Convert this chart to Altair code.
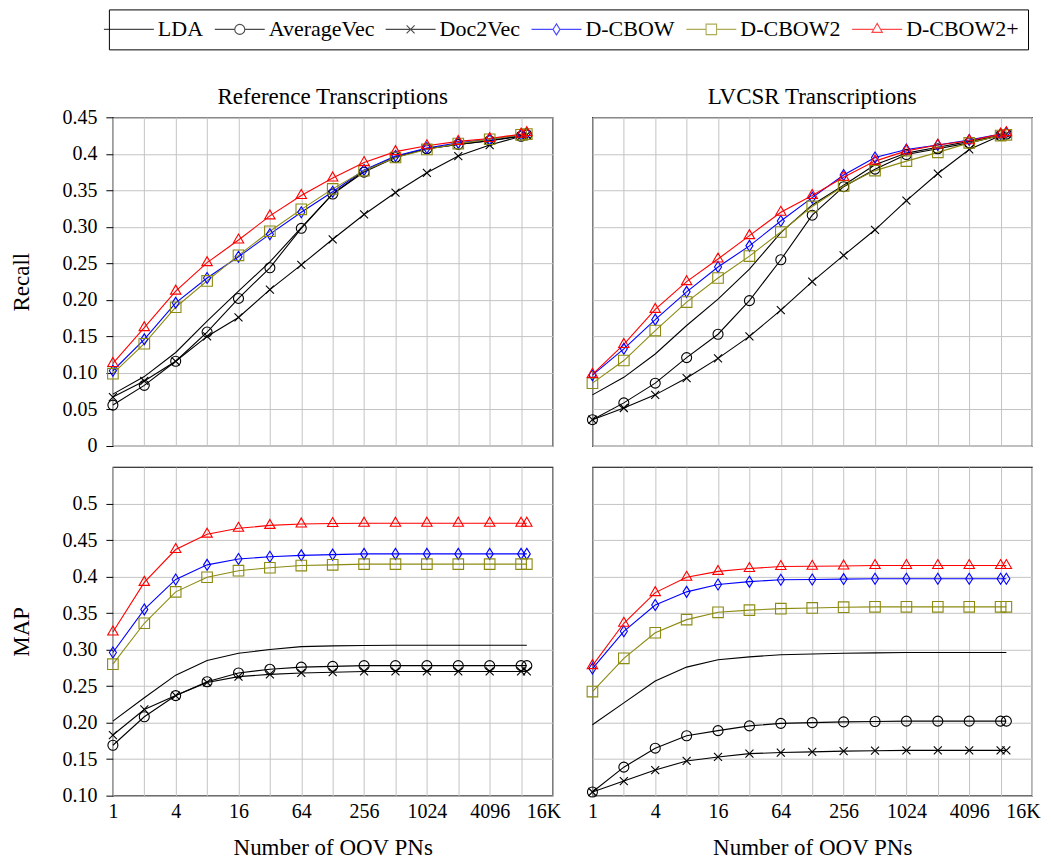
import altair as alt
import pandas as pd

# ---------------- data ----------------
x_points = [1, 2, 4, 8, 16, 32, 64, 128, 256, 512, 1024, 2048, 4096, 8192, 9300]
series = ["LDA", "AverageVec", "Doc2Vec", "D-CBOW", "D-CBOW2", "D-CBOW2+"]
series_colors = ["#000000", "#000000", "#000000", "#0000ff", "#8c8a10", "#ff0000"]

x_tick_values = [1, 2, 4, 8, 16, 32, 64, 128, 256, 512, 1024, 2048, 4096, 8192, 16384]
x_labelled = [1, 4, 16, 64, 256, 1024, 4096]
recall_ticks = [0, 0.05, 0.10, 0.15, 0.20, 0.25, 0.30, 0.35, 0.40, 0.45]
map_ticks = [0.10, 0.15, 0.20, 0.25, 0.30, 0.35, 0.40, 0.45, 0.50]

# Recall, reference transcriptions
ref_recall_lda = [0.071, 0.095, 0.128, 0.171, 0.212, 0.252, 0.299, 0.345, 0.377, 0.396, 0.407, 0.413, 0.418, 0.425, 0.426]
ref_recall_avg = [0.056, 0.083, 0.116, 0.156, 0.202, 0.244, 0.298, 0.345, 0.375, 0.395, 0.407, 0.413, 0.418, 0.424, 0.426]
ref_recall_d2v = [0.067, 0.089, 0.116, 0.150, 0.176, 0.214, 0.248, 0.283, 0.317, 0.347, 0.374, 0.397, 0.412, 0.424, 0.426]
ref_recall_dcbow = [0.103, 0.146, 0.196, 0.230, 0.259, 0.290, 0.320, 0.348, 0.378, 0.397, 0.408, 0.415, 0.420, 0.426, 0.428]
ref_recall_dcbow2 = [0.099, 0.140, 0.190, 0.226, 0.261, 0.294, 0.324, 0.352, 0.377, 0.395, 0.406, 0.414, 0.420, 0.426, 0.427]
ref_recall_dcbow2p = [0.113, 0.162, 0.212, 0.251, 0.282, 0.315, 0.343, 0.367, 0.388, 0.403, 0.411, 0.417, 0.421, 0.427, 0.429]

# Recall, LVCSR transcriptions
asr_recall_lda = [0.070, 0.094, 0.126, 0.165, 0.201, 0.242, 0.292, 0.330, 0.357, 0.385, 0.401, 0.409, 0.417, 0.425, 0.426]
asr_recall_avg = [0.036, 0.059, 0.086, 0.121, 0.153, 0.199, 0.255, 0.316, 0.355, 0.379, 0.399, 0.407, 0.415, 0.425, 0.427]
asr_recall_d2v = [0.036, 0.052, 0.070, 0.093, 0.120, 0.150, 0.186, 0.225, 0.261, 0.296, 0.336, 0.373, 0.406, 0.425, 0.427]
asr_recall_dcbow = [0.097, 0.133, 0.173, 0.211, 0.245, 0.274, 0.308, 0.340, 0.371, 0.395, 0.406, 0.412, 0.419, 0.427, 0.429]
asr_recall_dcbow2 = [0.086, 0.117, 0.158, 0.197, 0.230, 0.260, 0.293, 0.328, 0.356, 0.377, 0.390, 0.402, 0.415, 0.425, 0.426]
asr_recall_dcbow2p = [0.098, 0.139, 0.187, 0.225, 0.256, 0.288, 0.320, 0.343, 0.368, 0.390, 0.404, 0.412, 0.418, 0.427, 0.429]

# MAP, reference transcriptions
ref_map_lda = [0.202, 0.234, 0.265, 0.285, 0.295, 0.300, 0.304, 0.305, 0.3055, 0.306, 0.306, 0.306, 0.306, 0.306, 0.306]
ref_map_avg = [0.169, 0.208, 0.237, 0.256, 0.268, 0.273, 0.276, 0.277, 0.278, 0.278, 0.278, 0.278, 0.278, 0.278, 0.278]
ref_map_d2v = [0.183, 0.218, 0.237, 0.255, 0.263, 0.266, 0.268, 0.269, 0.270, 0.270, 0.270, 0.270, 0.270, 0.270, 0.270]
ref_map_dcbow = [0.296, 0.355, 0.396, 0.416, 0.424, 0.427, 0.429, 0.430, 0.431, 0.431, 0.431, 0.431, 0.431, 0.431, 0.431]
ref_map_dcbow2 = [0.280, 0.336, 0.379, 0.399, 0.408, 0.412, 0.415, 0.416, 0.417, 0.417, 0.417, 0.417, 0.417, 0.417, 0.417]
ref_map_dcbow2p = [0.324, 0.392, 0.437, 0.458, 0.466, 0.470, 0.472, 0.4725, 0.473, 0.473, 0.473, 0.473, 0.473, 0.473, 0.473]

# MAP, LVCSR transcriptions
asr_map_lda = [0.197, 0.227, 0.257, 0.276, 0.286, 0.290, 0.293, 0.294, 0.295, 0.2955, 0.296, 0.296, 0.296, 0.296, 0.296]
asr_map_avg = [0.105, 0.139, 0.165, 0.182, 0.189, 0.1955, 0.199, 0.200, 0.201, 0.2015, 0.202, 0.202, 0.202, 0.202, 0.202]
asr_map_d2v = [0.105, 0.120, 0.135, 0.1475, 0.153, 0.1575, 0.159, 0.160, 0.161, 0.1615, 0.162, 0.162, 0.162, 0.162, 0.162]
asr_map_dcbow = [0.274, 0.325, 0.361, 0.379, 0.389, 0.393, 0.3955, 0.396, 0.3965, 0.397, 0.397, 0.397, 0.397, 0.397, 0.397]
asr_map_dcbow2 = [0.2425, 0.288, 0.323, 0.341, 0.351, 0.354, 0.356, 0.357, 0.358, 0.3585, 0.3585, 0.3585, 0.3585, 0.3585, 0.3585]
asr_map_dcbow2p = [0.278, 0.336, 0.378, 0.399, 0.407, 0.411, 0.4137, 0.414, 0.4145, 0.415, 0.415, 0.415, 0.415, 0.415, 0.415]


def make_df(*cols):
    rows = []
    for name, vals in zip(series, cols):
        for xv, v in zip(x_points, vals):
            rows.append({"series": name, "x": xv, "value": v})
    return pd.DataFrame(rows)


df_ref_recall = make_df(ref_recall_lda, ref_recall_avg, ref_recall_d2v, ref_recall_dcbow, ref_recall_dcbow2, ref_recall_dcbow2p)
df_asr_recall = make_df(asr_recall_lda, asr_recall_avg, asr_recall_d2v, asr_recall_dcbow, asr_recall_dcbow2, asr_recall_dcbow2p)
df_ref_map = make_df(ref_map_lda, ref_map_avg, ref_map_d2v, ref_map_dcbow, ref_map_dcbow2, ref_map_dcbow2p)
df_asr_map = make_df(asr_map_lda, asr_map_avg, asr_map_d2v, asr_map_dcbow, asr_map_dcbow2, asr_map_dcbow2p)

# ---------------- style ----------------
FONT = "Liberation Serif"
PW, PH = 440, 329

color_scale = alt.Scale(domain=series, range=series_colors)

# plot markers (series, shape, size)
markers = [
    ("AverageVec", "circle", 100),
    ("Doc2Vec", "M-1,-1L1,1M-1,1L1,-1", 64),
    ("D-CBOW", "M0,-1L0.64,0L0,1L-0.64,0Z", 121),
    ("D-CBOW2", "M-1,-1H1V1H-1Z", 112),
    ("D-CBOW2+", "M0,-1.2L1.04,0.6L-1.04,0.6Z", 100),
]

# legend symbols: line + marker (unit = 5px with symbolSize 100)
legend_paths = [
    "M-5,0H5",
    "M-5,0H-1M1,0H5M-1,0A1,1,0,1,1,1,0A1,1,0,1,1,-1,0",
    "M-5,0H5M-0.8,-0.8L0.8,0.8M-0.8,0.8L0.8,-0.8",
    "M-5,0H-0.64M0.64,0H5M0,-1.1L0.7,0L0,1.1L-0.7,0Z",
    "M-5,0H-1.05M1.05,0H5M-1.05,-1.05H1.05V1.05H-1.05Z",
    "M-5,0H-0.69M0.69,0H5M0,-1.2L1.04,0.6L-1.04,0.6Z",
]

x_label_expr = (
    "datum.value == 16384 ? '16K' : (indexof(" + str(x_labelled) + ", datum.value) >= 0 ? format(datum.value, 'd') : '')"
)
y_label_expr = (
    "abs(datum.value) < 1e-9 ? '0' : (abs(datum.value - 0.4) < 1e-9 ? '0.4' : "
    "(abs(datum.value - 0.5) < 1e-9 ? '0.5' : format(datum.value, '.2f')))"
)


def make_legend():
    return alt.Legend(
        title=None,
        orient="none",
        legendX=-4,
        legendY=-108,
        direction="horizontal",
        columns=6,
        strokeColor="black",
        padding=9,
        labelFont=FONT,
        labelFontSize=22,
        labelColor="black",
        symbolSize=100,
        symbolStrokeWidth=1.1,
        labelOffset=18,
        columnPadding=8,
    )


def panel(df, ydom, yvals, ytitle, show_y, show_x, title, title_offset, with_legend):
    xaxis = alt.Axis(
        values=x_tick_values,
        labelExpr=x_label_expr,
        labels=show_x,
        ticks=False,
        domain=False,
        grid=True,
        labelFlush=False,
        labelOverlap=False,
        labelPadding=6,
        labelOffset=alt.condition("datum.value == 16384", alt.value(-9), alt.value(0)),
        titlePadding=15,
        title="Number of OOV PNs" if show_x else None,
    )
    yaxis = alt.Axis(
        values=yvals,
        labelExpr=y_label_expr,
        labels=show_y,
        ticks=show_y,
        tickSize=7,
        domain=False,
        grid=True,
        labelPadding=9,
        titlePadding=28,
        title=ytitle if show_y else None,
    )
    x = alt.X("x:Q", scale=alt.Scale(type="log", base=2, domain=[1, 16384], nice=False), axis=xaxis)
    y = alt.Y("value:Q", scale=alt.Scale(domain=ydom, nice=False, zero=False), axis=yaxis)
    color = alt.Color("series:N", scale=color_scale, legend=None)

    layers = []
    if with_legend:
        leg = make_legend()
        layers.append(
            alt.Chart(df)
            .transform_filter("false")
            .mark_point(filled=False, strokeWidth=1.1)
            .encode(
                x=x,
                y=y,
                color=alt.Color("series:N", scale=color_scale, legend=leg),
                shape=alt.Shape("series:N", scale=alt.Scale(domain=series, range=legend_paths), legend=leg),
            )
        )
    layers.append(
        alt.Chart(df)
        .mark_line(strokeWidth=1.1)
        .encode(x=x, y=y, color=color, detail="series:N", order="x:Q")
    )
    for s, shp, sz in markers:
        layers.append(
            alt.Chart(df)
            .transform_filter(alt.datum.series == s)
            .mark_point(shape=shp, size=sz, filled=False, strokeWidth=1.1, opacity=1)
            .encode(x=x, y=y, color=color)
        )
    ch = alt.layer(*layers).properties(width=PW, height=PH)
    if title:
        ch = ch.properties(
            title=alt.TitleParams(
                text=title, font=FONT, fontSize=23, fontWeight="normal", color="black",
                offset=title_offset, anchor="middle", frame="group",
            )
        )
    return ch


tl = panel(df_ref_recall, [0, 0.45], recall_ticks, "Recall", True, False, "Reference Transcriptions", -2, True)
tr = panel(df_asr_recall, [0, 0.45], recall_ticks, "Recall", False, False, "LVCSR Transcriptions", 8, False)
bl = panel(df_ref_map, [0.10, 0.55], map_ticks, "MAP", True, True, None, 0, False)
br = panel(df_asr_map, [0.10, 0.55], map_ticks, "MAP", False, True, None, 0, False)

chart = alt.concat(tl, tr, bl, br, columns=2, spacing=alt.RowColnumber(row=21, column=40), bounds="flush")

chart = (
    chart.properties(padding={"left": 2, "top": 0, "right": 2, "bottom": 0})
    .configure_view(stroke="black", strokeWidth=1.2)
    .configure_axis(
        labelFont=FONT,
        labelFontSize=20,
        labelColor="black",
        titleFont=FONT,
        titleFontSize=23,
        titleFontWeight="normal",
        titleColor="black",
        gridColor="#c4c4c4",
        gridWidth=1,
        tickColor="black",
    )
)

chart.save("out.html", embed_options={"renderer": "svg", "actions": False})
